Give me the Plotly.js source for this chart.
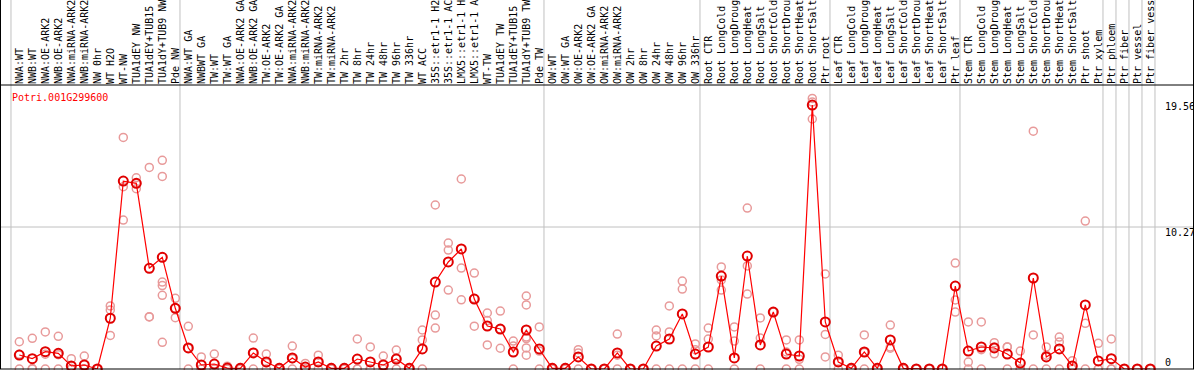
<!DOCTYPE html>
<html><head><meta charset="utf-8">
<script src="https://cdn.plot.ly/plotly-3.0.1.min.js"></script>
<style>html,body{margin:0;padding:0;background:#fff}#chart{width:1194px;height:370px}</style>
</head><body><div id="chart"></div>
<script>
const geneId = "Potri.001G299600";

const categories = [
  "NWA:WT","NWB:WT","NWA:OE-ARK2","NWB:OE-ARK2","NWA:miRNA-ARK2","NWB:miRNA-ARK2","NW 0hr","WT H2O","WT-NW","TUA1dEY NW","TUA1dEY+TUB15 NW","TUA1dY+TUB9 NW","Pde NW",
  "NWA:WT GA","NWBWT GA","TW:WT","TW:WT GA","NWA:OE-ARK2 GA","NWB:OE-ARK2 GA","TW:OE-ARK2","TW:OE-ARK2 GA","NWA:miRNA-ARK2 GA","NWB:miRNA-ARK2 GA","TW:miRNA-ARK2","TW:miRNA-ARK2 GA","TW 2hr","TW 8hr","TW 24hr","TW 48hr","TW 96hr","TW 336hr","WT ACC","35S::etr1-1 H2O","35S::etr1-1 ACC","LMX5::etr1-1 H2O","LMX5::etr1-1 ACC","WT-TW","TUA1dEY TW","TUA1dEY+TUB15 TW","TUA1dY+TUB9 TW","Pde TW",
  "OW:WT","OW:WT GA","OW:OE-ARK2","OW:OE-ARK2 GA","OW:miRNA-ARK2","OW:miRNA-ARK2 GA","OW 2hr","OW 8hr","OW 24hr","OW 48hr","OW 96hr","OW 336hr",
  "Root CTR","Root LongCold","Root LongDrought","Root LongHeat","Root LongSalt","Root ShortCold","Root ShortDrought","Root ShortHeat","Root ShortSalt","Ptr root",
  "Leaf CTR","Leaf LongCold","Leaf LongDrought","Leaf LongHeat","Leaf LongSalt","Leaf ShortCold","Leaf ShortDrought","Leaf ShortHeat","Leaf ShortSalt","Ptr leaf",
  "Stem CTR","Stem LongCold","Stem LongDrought","Stem LongHeat","Stem LongSalt","Stem ShortCold","Stem ShortDrought","Stem ShortHeat","Stem ShortSalt","Ptr shoot","Ptr xylem",
  "Ptr phloem","Ptr fiber","Ptr vessel","Ptr fiber vessel"
];

// number of categories in each separated block
const groupSizes = [13, 28, 12, 10, 10, 11, 1, 1, 1, 1];

// mean expression per category
const means = [
  1.01,0.75,1.25,1.13,0.22,0.29,0.0,3.67,13.59,13.43,7.28,8.08,4.39,
  1.52,0.29,0.36,0.07,0.05,1.16,0.51,0.05,0.80,0.14,0.51,0.05,0.05,0.72,0.51,0.29,0.72,0.05,1.45,6.29,7.74,8.68,5.06,3.11,2.89,1.23,2.82,1.45,
  0.05,0.05,0.87,0.0,0.0,1.16,0.0,0.0,1.66,2.17,3.98,1.08,
  1.59,6.72,0.80,8.17,1.74,4.12,1.08,0.94,19.09,3.40,
  0.51,0.05,1.23,0.05,2.10,0.05,0.0,0.0,0.0,6.00,
  1.30,1.59,1.52,1.08,0.43,6.58,0.87,1.45,0.22,4.63,0.58,
  0.75,0.0,0.0,0.0
];

// individual replicate values per category
const replicates = [
  [1.97,1.06,0],[2.22,0.03,0],[2.68,1.07,0],[2.36,1.03,0],[0.75,0,0],[0.94,0,0],[0,0,0],[4.56,4.27,2.43],[16.75,13.18,10.77],[13.83,13.42,13.04],[14.58,3.78,3.76],[15.09,13.93,6.29,6.03,5.33,1.93],[5.11,4.39,3.71],
  [3.09,1.5,0],[0.87,0,0],[1.08,0,0],[0.2,0,0],[0.1,0,0],[2.24,1.2,0],[1.08,0.45,0],[0.1,0,0],[1.66,0.75,0],[0.4,0,0],[1.0,0.5,0],[0.1,0,0],[0.1,0,0],[2.17,0,0],[1.6,0,0],[0.94,0,0],[1.37,0.8,0],[0.1,0,0],[2.82,2.1,0],[11.86,3.9,2.96],[9.11,8.6,5.71],[13.74,7.3,5.0],[6.94,5.1,3.1],[4.05,3.5,1.74],[4.19,2.89,1.5],[2.02,1.66,0],[5.28,4.63,2.31,1.52,1.0,2.2],[3.04,1.3,0],
  [0.1,0,0],[0.1,0,0],[1.16,1.4,0],[0,0,0],[0,0,0],[2.53,1.0,0],[0,0,0],[0,0,0],[2.82,2.39,0],[4.56,2.68,0],[6.36,5.78,0],[1.81,1.4,0],
  [2.96,2.17,0],[7.38,6.44,5.71],[3.04,2.02,0],[11.64,5.42,7.45],[3.69,2.24,0],[4.12,4.12,4.12],[2.1,1.23,0],[2.1,0.7,0],[19.57,19.3,18.08],[6.87,2.5,0.87],
  [1.0,0.5,0],[0.1,0,0],[2.46,1.2,0],[0.1,0,0],[3.18,1.59,1.5],[0.1,0,0],[0,0,0],[0,0,0],[0,0,0],[7.66,4.99,4.12],
  [3.4,0.5,0],[3.4,1.4,0],[1.9,1.6,1.1],[1.6,1.6,0],[1.3,0,0],[17.2,2.46,0],[1.6,1.0,0],[2.31,1.95,0],[0.6,0,0],[10.7,3.3,0],[1.86,0,0],
  [2.17,0,0],[0,0,0],[0,0,0],[0,0,0]
];

// labelled values on the right-hand side
const yLabels = [19.56, 10.27, 0];

const maxRep = 19.56;
const yTop = maxRep * 1.05;
const idx = categories.map((_, i) => i);
// the chart shows at most 14 characters of each column name
const shownLabels = categories.map(c => c.slice(0, 14));

const repX = [], repY = [];
replicates.forEach((r, i) => r.forEach(v => { repX.push(i); repY.push(v); }));

const font = "DejaVu Sans Mono, monospace";

const traces = [
  { x: repX, y: repY, type: "scatter", mode: "markers", cliponaxis: false, hoverinfo: "skip",
    marker: { symbol: "circle-open", size: 8, color: "#e89a9a", line: { width: 1.5, color: "#e89a9a" } } },
  { x: idx, y: means, type: "scatter", mode: "lines+markers", cliponaxis: false,
    line: { color: "#ff0000", width: 1.2 },
    marker: { symbol: "circle-open", size: 9, color: "#e00000", line: { width: 2, color: "#e00000" } } }
];

const shapes = [];
let b = 0;
const bounds = [0];
groupSizes.forEach(g => { b += g; bounds.push(b); });
bounds.forEach(v => shapes.push({ type: "line", xref: "x", yref: "paper", x0: v - 0.64, x1: v - 0.64, y0: 0, y1: 1.5,
  line: { color: "#c0c0c0", width: 1 }, layer: "below" }));
// middle gridline
shapes.push({ type: "line", xref: "paper", yref: "y", x0: 0, x1: 1, y0: yTop / 2, y1: yTop / 2, line: { color: "#c0c0c0", width: 1 }, layer: "below" });
// borders
shapes.push({ type: "line", xref: "paper", yref: "paper", x0: 0, x1: 1, y0: 1, y1: 1, line: { color: "#000", width: 1 } });
shapes.push({ type: "line", xref: "paper", yref: "paper", x0: 0, x1: 1, y0: 0, y1: 0, line: { color: "#000", width: 1 } });
shapes.push({ type: "line", xref: "paper", yref: "paper", x0: 0.5/1194, x1: 0.5/1194, y0: 0, y1: 1.5, line: { color: "#000", width: 1 } });
shapes.push({ type: "line", xref: "paper", yref: "paper", x0: 1193.5/1194, x1: 1193.5/1194, y0: 0, y1: 1.5, line: { color: "#000", width: 1 } });

const shifts = [-8, -6, 7];
const annotations = yLabels.map((v, k) => ({
  xref: "paper", yref: "y", x: 1163/1194, y: v, xanchor: "left", yanchor: "middle", yshift: shifts[k],
  text: String(v), showarrow: false, font: { family: font, size: 10, color: "#000" }
}));
annotations.push({ xref: "paper", yref: "paper", x: 10/1194, y: 1, xanchor: "left", yanchor: "middle", yshift: -12,
  text: geneId, showarrow: false, font: { family: font, size: 10, color: "#ff0000" } });

const layout = {
  width: 1194, height: 370,
  margin: { l: 0, r: 0, t: 85, b: 1, pad: 0 },
  paper_bgcolor: "#fff", plot_bgcolor: "#fff",
  showlegend: false,
  xaxis: { range: [-19.3/13, (1194-19.3)/13], side: "top", tickmode: "array", tickvals: idx, ticktext: shownLabels,
    tickangle: -90, ticks: "", showgrid: false, zeroline: false, showline: false,
    tickfont: { family: font, size: 10, color: "#000" } },
  yaxis: { range: [0, yTop], showgrid: false, zeroline: false, showticklabels: false, showline: false, ticks: "" },
  shapes: shapes, annotations: annotations
};

Plotly.newPlot("chart", traces, layout, { staticPlot: true, displayModeBar: false });
</script>
</body></html>
